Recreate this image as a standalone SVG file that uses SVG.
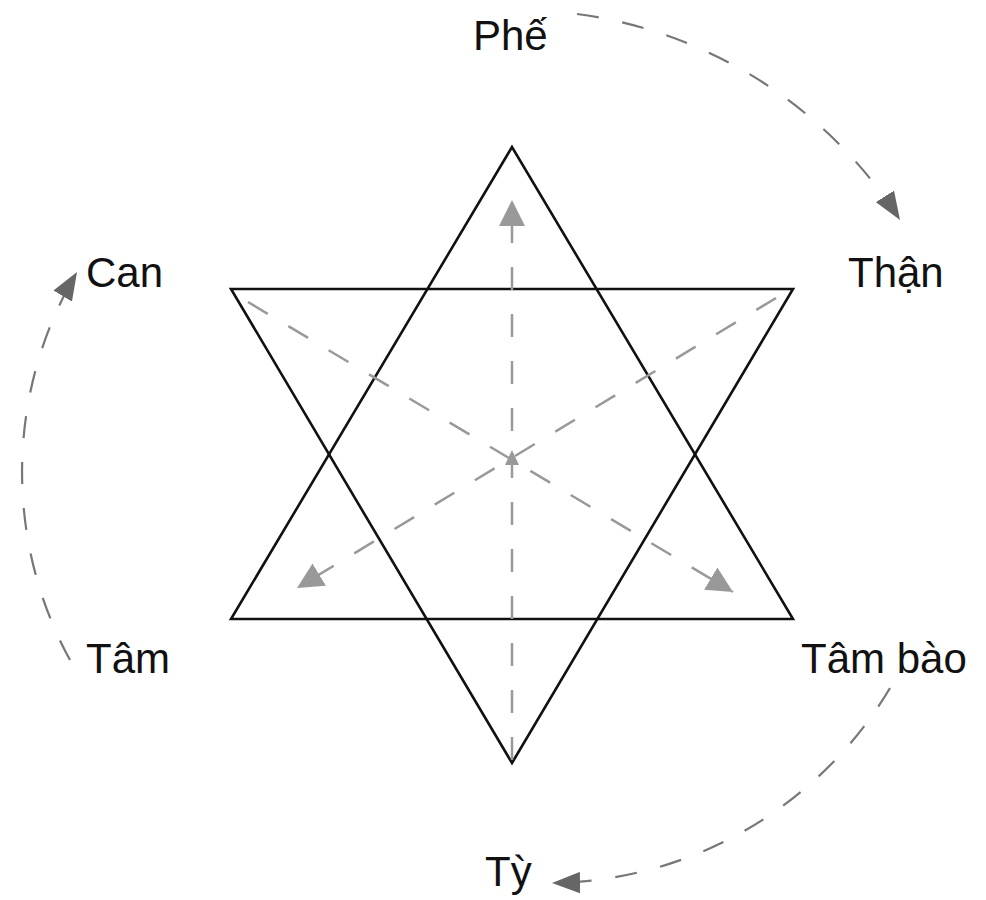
<svg xmlns="http://www.w3.org/2000/svg" width="986" height="900" viewBox="0 0 986 900">
  <defs>
    <marker id="arcHead" markerUnits="userSpaceOnUse" markerWidth="28" markerHeight="22" viewBox="0 0 26 20" refX="26" refY="10" orient="auto">
      <path d="M0,0 L26,10 L0,20 Z" fill="#666"/>
    </marker>
    <marker id="innerHead" markerUnits="userSpaceOnUse" markerWidth="26" markerHeight="26" viewBox="0 0 24 24" refX="24" refY="12" orient="auto">
      <path d="M0,0 L24,12 L0,24 Z" fill="#999"/>
    </marker>
  </defs>
  <style>
    .tri { fill: none; stroke: #111; stroke-width: 2.6; stroke-linejoin: miter; }
    .arc { fill: none; stroke: #777; stroke-width: 2.2; stroke-dasharray: 22 24; }
    .inner { fill: none; stroke: #999; stroke-width: 2.5; stroke-dasharray: 23 24; }
    .lbl { font-family: "Liberation Sans", Arial, sans-serif; font-size: 42px; fill: #111; }
  </style>
  <rect width="986" height="900" fill="#fff"/>

  <g id="star">
    <polygon id="triangle-up" class="tri" points="512,147 231,619 793,619"/>
    <polygon id="triangle-down" class="tri" points="231,289 793,289 512,763"/>
  </g>

  <g id="connectors">
    <path class="arc" d="M577,14 A455,455 0 0 1 900,220" marker-end="url(#arcHead)"/>
    <path class="arc" d="M70,660 A392,392 0 0 1 77,272" marker-end="url(#arcHead)"/>
    <path class="arc" d="M890,688 A399,399 0 0 1 552,883" marker-end="url(#arcHead)"/>
    <path class="inner" d="M512,760 L512,200" marker-end="url(#innerHead)"/>
    <path class="inner" d="M248,302 L733,592" marker-end="url(#innerHead)"/>
    <path class="inner" d="M776,298 L297,588" marker-end="url(#innerHead)"/>
    <polygon points="512,450 505,465 519,465" fill="#999"/>
  </g>

  <g id="node-phe"><text class="lbl" x="473" y="50">Phế</text></g>
  <g id="node-can"><text class="lbl" x="86" y="287">Can</text></g>
  <g id="node-than"><text class="lbl" x="848" y="287">Thận</text></g>
  <g id="node-tam"><text class="lbl" x="86" y="673">Tâm</text></g>
  <g id="node-tambao"><text class="lbl" x="801" y="673">Tâm bào</text></g>
  <g id="node-ty"><text class="lbl" x="485" y="886">Tỳ</text></g>
</svg>
